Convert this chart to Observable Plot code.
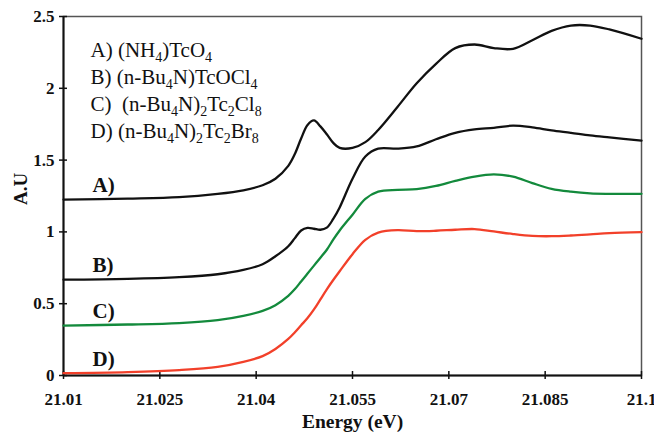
<!DOCTYPE html>
<html>
<head>
<meta charset="utf-8">
<script src="https://cdn.jsdelivr.net/npm/d3@7"></script>
<script src="https://cdn.jsdelivr.net/npm/@observablehq/plot@0.6"></script>
<style>
  html, body { margin: 0; padding: 0; background: #fff; }
  #chart { width: 654px; height: 434px; }
  #chart svg text { font-family: "Liberation Serif", "Times New Roman", serif; }
</style>
</head>
<body>
<div id="chart"></div>
<script>
// Tc K-edge XANES spectra, stacked with vertical offsets
const energy = [21.010, 21.020, 21.028, 21.034, 21.038, 21.041, 21.043, 21.045, 21.046, 21.047,
                21.048, 21.049, 21.050, 21.051, 21.052, 21.053, 21.055, 21.057, 21.059, 21.062,
                21.065, 21.068, 21.071, 21.074, 21.077, 21.080, 21.083, 21.086, 21.089, 21.092,
                21.095, 21.100];

const absA = [1.225, 1.232, 1.242, 1.265, 1.29, 1.325, 1.37, 1.46, 1.54, 1.65,
              1.745, 1.776, 1.735, 1.68, 1.62, 1.585, 1.585, 1.625, 1.71, 1.87,
              2.035, 2.17, 2.28, 2.305, 2.28, 2.275, 2.335, 2.40, 2.437, 2.437,
              2.41, 2.345];
const absB = [0.667, 0.673, 0.685, 0.705, 0.735, 0.775, 0.83, 0.90, 0.955, 1.01,
              1.028, 1.022, 1.015, 1.03, 1.09, 1.17, 1.37, 1.525, 1.58, 1.58,
              1.595, 1.645, 1.69, 1.714, 1.725, 1.74, 1.728, 1.707, 1.69, 1.672,
              1.658, 1.636];
const absC = [0.348, 0.355, 0.365, 0.385, 0.415, 0.45, 0.49, 0.555, 0.60, 0.655,
              0.71, 0.765, 0.82, 0.876, 0.946, 1.01, 1.12, 1.23, 1.28, 1.293,
              1.298, 1.32, 1.355, 1.385, 1.40, 1.385, 1.34, 1.30, 1.28, 1.268,
              1.265, 1.265];
const absD = [0.016, 0.024, 0.038, 0.06, 0.095, 0.135, 0.185, 0.255, 0.30, 0.35,
              0.40, 0.46, 0.53, 0.60, 0.665, 0.726, 0.845, 0.945, 0.995, 1.012,
              1.005, 1.008, 1.015, 1.02, 1.003, 0.985, 0.972, 0.97, 0.975, 0.983,
              0.992, 0.998];

const seriesNames = ["A)", "B)", "C)", "D)"];
const legendLines = [
  "A) (NH_4)TcO_4",
  "B) (n-Bu_4N)TcOCl_4",
  "C)  (n-Bu_4N)_2Tc_2Cl_8",
  "D) (n-Bu_4N)_2Tc_2Br_8"
];
const xTicks = [21.01, 21.025, 21.04, 21.055, 21.07, 21.085, 21.1];
const yTicks = [0, 0.5, 1, 1.5, 2, 2.5];

const lineColors = ["#111111", "#111111", "#138a3c", "#f2402a"];
const allSeries = [absA, absB, absC, absD];

const rows = allSeries.flatMap((vals, s) =>
  vals.map((v, i) => ({series: seriesNames[s], energy: energy[i], value: v, color: lineColors[s]}))
);
const seriesLabels = seriesNames.map((name, s) => ({name, energy: energy[0], value: allSeries[s][0]}));

const serif = "'Liberation Serif', 'Times New Roman', serif";

const chart = Plot.plot({
  width: 654,
  height: 434,
  marginLeft: 63,
  marginRight: 13,
  marginTop: 16,
  marginBottom: 59,
  style: {fontFamily: serif, background: "#fff", color: "#111", overflow: "visible"},
  x: {domain: [21.01, 21.1]},
  y: {domain: [0, 2.5]},
  color: {type: "identity"},
  marks: [
    Plot.frame({stroke: "#555", strokeWidth: 1.5}),
    Plot.axisX({ticks: xTicks, tickFormat: d => String(d), tickSize: 4, tickPadding: 13,
                fontWeight: "bold", fontSize: 17, label: null, strokeWidth: 1.5}),
    Plot.axisX({ticks: xTicks, tickSize: -4, tickFormat: () => "", label: null, strokeWidth: 1.5}),
    Plot.axisY({ticks: yTicks, tickFormat: d => String(d), tickSize: 4, tickPadding: 5,
                fontWeight: "bold", fontSize: 17, label: null, strokeWidth: 1.5}),
    Plot.axisY({ticks: yTicks, tickSize: -4, tickFormat: () => "", label: null, strokeWidth: 1.5}),
    Plot.ruleY([0], {stroke: "#111", strokeWidth: 2}),
    Plot.ruleX([21.01], {stroke: "#111", strokeWidth: 2}),
    Plot.line(rows, {x: "energy", y: "value", z: "series", stroke: "color",
                     strokeWidth: 2.3, curve: "catmull-rom"}),
    Plot.text(seriesLabels, {x: "energy", y: d => d.value + 0.1, text: "name", dx: 29,
                             textAnchor: "start", fontWeight: "bold", fontSize: 21, fill: "#111"}),
    ...legendLines.map((line, i) =>
      Plot.text([line], {frameAnchor: "top-left", dx: 27, dy: 26 + i * 27, text: d => d,
                         textAnchor: "start", fontSize: 21, fill: "#111"})
    ),
    Plot.text(["Energy (eV)"], {frameAnchor: "bottom", dy: 52, text: d => d,
                                fontWeight: "bold", fontSize: 19.5, fill: "#111"}),
    Plot.text(["A.U"], {frameAnchor: "left", dx: -43, dy: 9, rotate: -90, text: d => d,
                        fontWeight: "bold", fontSize: 19, fill: "#111"})
  ]
});

// Tick labels: bold serif, dark fill
const tickStrings = new Set([...xTicks, ...yTicks].map(String));
chart.querySelectorAll("text").forEach(t => {
  if (tickStrings.has(t.textContent.trim())) {
    t.style.fontSize = "17px";
    t.style.fontWeight = "bold";
    t.style.fill = "#111";
  }
});

// Turn "_n" markers in chemical formulas into subscript tspans
const svgns = "http://www.w3.org/2000/svg";
chart.querySelectorAll("text, tspan").forEach(el => {
  if (el.children.length) return;
  const s = el.textContent;
  if (!/_\d/.test(s)) return;
  el.textContent = "";
  let shifted = false;
  for (const part of s.split(/(_\d)/)) {
    if (!part) continue;
    const t = document.createElementNS(svgns, "tspan");
    if (part[0] === "_") {
      t.textContent = part.slice(1);
      t.setAttribute("font-size", "14");
      if (!shifted) t.setAttribute("dy", "5");
      shifted = true;
    } else {
      t.textContent = part;
      if (shifted) t.setAttribute("dy", "-5");
      shifted = false;
    }
    el.appendChild(t);
  }
});

document.getElementById("chart").appendChild(chart);
</script>
</body>
</html>
